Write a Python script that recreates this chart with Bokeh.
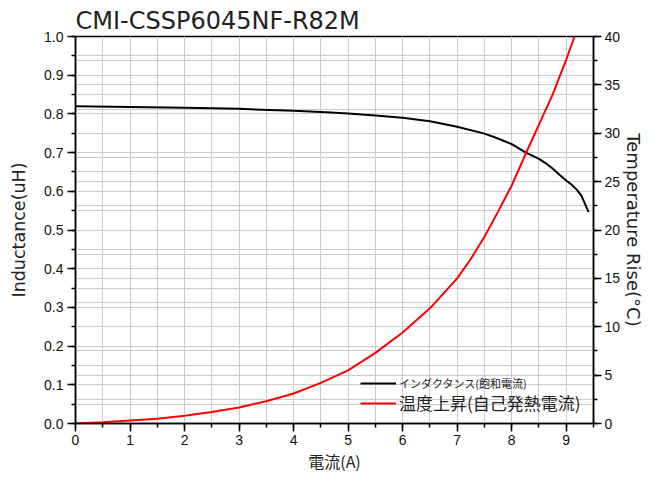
from bokeh.plotting import figure
from bokeh.models import (Range1d, LinearAxis, SingleIntervalTicker, Grid, Legend, LegendItem,
                          PrintfTickFormatter)
from bokeh.embed import file_html
from bokeh.resources import INLINE

title_text = "CMI-CSSP6045NF-R82M"
x_label = "電流(A)"
yl_label = "Inductance(uH)"
yr_label = "Temperature Rise(°C)"
current_L = [0, 1, 2, 3, 4, 4.6, 5, 5.5, 6, 6.5, 7, 7.5, 7.7, 8, 8.26, 8.5, 8.62, 8.75, 8.86, 9.0, 9.1, 9.2,
             9.28, 9.41]
inductance = [0.820, 0.818, 0.816, 0.813, 0.808, 0.804, 0.801, 0.796, 0.790, 0.781, 0.767, 0.749, 0.739, 0.722,
              0.700, 0.684, 0.673, 0.659, 0.645, 0.628, 0.617, 0.603, 0.588, 0.546]
current_T = [0, 0.5, 1, 1.5, 2, 2.5, 3, 3.5, 4, 4.5, 5, 5.5, 6, 6.5, 7, 7.25, 7.5, 7.75, 8, 8.25, 8.5,
             8.75, 9, 9.15]
temp_rise = [0, 0.12, 0.3, 0.5, 0.8, 1.2, 1.66, 2.3, 3.1, 4.2, 5.5, 7.3, 9.4, 11.9, 15.0, 17.0, 19.3,
             21.9, 24.6, 27.8, 30.9, 34.0, 37.6, 40.0]
label_L = "インダクタンス(飽和電流)"
label_T = "温度上昇(自己発熱電流)"

GRID = "#cbcbcb"
TICKF = "Liberation Sans"
CJK = "Noto Sans CJK JP"
LBLF = "DejaVu Sans"
TXT = "#222222"

p = figure(width=647, height=475, output_backend="svg", toolbar_location=None,
           x_range=Range1d(0, 9.5), y_range=Range1d(0, 1.0),
           min_border_left=75, min_border_right=48, min_border_top=36, min_border_bottom=51,
           title=title_text)
p.title.text_font = LBLF
p.title.text_font_style = "normal"
p.title.text_font_size = "24px"
p.title.text_color = TXT
p.title.align = "left"
p.title.standoff = 4
p.title.offset = 0

p.extra_y_ranges = {"temp": Range1d(0, 40)}
p.grid.visible = False

p.outline_line_color = "black"
p.outline_line_width = 1.5
p.outline_line_alpha = 1

p.xaxis.ticker = SingleIntervalTicker(interval=1, num_minor_ticks=2)
p.yaxis.ticker = SingleIntervalTicker(interval=0.1, num_minor_ticks=2)
p.yaxis.formatter = PrintfTickFormatter(format="%.1f")
p.xaxis.axis_label = x_label
p.yaxis.axis_label = yl_label
p.xaxis.axis_label_text_font = CJK
p.yaxis.axis_label_text_font = LBLF
p.xaxis.axis_label_text_font_size = "16px"
p.yaxis.axis_label_text_font_size = "17.5px"

right = LinearAxis(y_range_name="temp", ticker=SingleIntervalTicker(interval=5, num_minor_ticks=2),
                   axis_label=yr_label)
right.axis_label_text_font = LBLF
right.axis_label_text_font_size = "18px"
p.add_layout(right, "right")

for ax in [p.xaxis[0], p.yaxis[0], right]:
    ax.axis_line_color = "black"
    ax.axis_line_width = 1.5
    ax.major_tick_line_color = "black"
    ax.major_tick_line_width = 1.5
    ax.minor_tick_line_color = "black"
    ax.minor_tick_line_width = 1.5
    ax.major_tick_in = 0
    ax.major_tick_out = 8
    ax.minor_tick_in = 0
    ax.minor_tick_out = 4
    ax.major_label_text_font = TICKF
    ax.major_label_text_font_size = "14px"
    ax.major_label_text_color = "#111111"
    ax.axis_label_text_font_style = "normal"
    ax.axis_label_text_color = TXT
p.yaxis.major_label_standoff = 4
p.yaxis.axis_label_standoff = 12
p.xaxis.major_label_standoff = 3
p.xaxis.axis_label_standoff = 1
right.major_label_standoff = 3
right.axis_label_standoff = 0

gx = Grid(dimension=0, ticker=SingleIntervalTicker(interval=1, num_minor_ticks=2))
gy = Grid(dimension=1, ticker=SingleIntervalTicker(interval=0.1, num_minor_ticks=2))
gt = Grid(dimension=1, y_range_name="temp", ticker=SingleIntervalTicker(interval=5, num_minor_ticks=2))
for g in [gx, gy, gt]:
    g.grid_line_color = GRID
    g.grid_line_width = 1
    g.minor_grid_line_color = GRID
    g.minor_grid_line_width = 1
    p.add_layout(g)

rL = p.line(current_L, inductance, line_color="black", line_width=2)
rT = p.line(current_T, temp_rise, line_color="red", line_width=2, y_range_name="temp")

leg1 = Legend(items=[LegendItem(label=label_L, renderers=[rL])], location=(285, 32))
leg1.label_text_font_size = "11px"
leg1.label_height = 12
leg1.glyph_height = 12
leg2 = Legend(items=[LegendItem(label=label_T, renderers=[rT])], location=(285, 8))
leg2.label_text_font_size = "17px"
leg2.label_height = 20
leg2.glyph_height = 20
for lg in [leg1, leg2]:
    lg.label_text_font = CJK
    lg.label_text_color = TXT
    lg.glyph_width = 36
    lg.label_standoff = 3
    lg.padding = 0
    lg.margin = 0
    lg.spacing = 0
    lg.border_line_color = None
    lg.background_fill_alpha = 0
    lg.label_text_baseline = "middle"
    p.add_layout(lg)

open("out.html", "w").write(file_html(p, INLINE))
